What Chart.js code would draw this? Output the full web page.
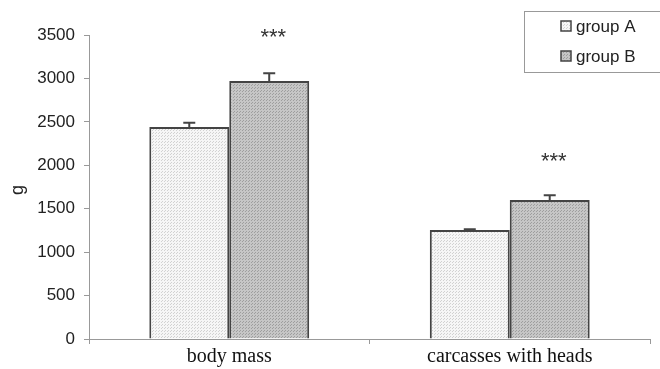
<!DOCTYPE html>
<html>
<head>
<meta charset="utf-8">
<script src="https://cdn.jsdelivr.net/npm/chart.js@4.4.0/dist/chart.umd.min.js"></script>
<style>
  html, body { margin: 0; padding: 0; background: #fff; }
</style>
</head>
<body>
<canvas id="chart" width="660" height="369"></canvas>
<script>
// data
const categories = ['body mass', 'carcasses with heads'];
const seriesNames = ['group A', 'group B'];
const groupA = [2440, 1255];
const groupB = [2970, 1600];
const errA = [50, 10];
const errB = [90, 55];
const marks = ['***', '***'];
const yMax = 3500;
const yStep = 500;

// dotted fills like the print version
function dotPattern(base, dot) {
    const c = document.createElement('canvas');
    c.width = 3; c.height = 3;
    const g = c.getContext('2d');
    g.fillStyle = base;
    g.fillRect(0, 0, 3, 3);
    g.fillStyle = dot;
    g.fillRect(0, 0, 1, 1);
    g.fillRect(2, 1, 1, 1);
    return g.createPattern(c, 'repeat');
}
const ctx0 = document.getElementById('chart').getContext('2d');
const fillA = dotPattern('#f6f6f6', '#d2d2d2');
const fillB = dotPattern('#c6c6c6', '#9e9e9e');

const errors = [errA, errB];

const extras = {
    id: 'extras',
    afterDatasetsDraw(chart) {
        const ctx = chart.ctx;
        const y = chart.scales.y;
        ctx.save();
        ctx.strokeStyle = '#444';
        ctx.lineWidth = 2;
        chart.data.datasets.forEach((ds, i) => {
            chart.getDatasetMeta(i).data.forEach((bar, j) => {
                const top = y.getPixelForValue(ds.data[j]);
                const end = y.getPixelForValue(ds.data[j] + errors[i][j]);
                ctx.beginPath();
                ctx.moveTo(bar.x, top);
                ctx.lineTo(bar.x, end);
                ctx.moveTo(bar.x - 6, end);
                ctx.lineTo(bar.x + 6, end);
                ctx.stroke();
            });
        });
        // significance marks over group B
        ctx.fillStyle = '#333';
        ctx.font = '22px "Liberation Sans", Arial';
        ctx.textAlign = 'center';
        ctx.textBaseline = 'middle';
        chart.getDatasetMeta(1).data.forEach((bar, j) => {
            const end = y.getPixelForValue(groupB[j] + errB[j]);
            ctx.fillText(marks[j], bar.x + 4, end - (j === 0 ? 35 : 33));
        });
        ctx.restore();
    },
    afterDraw(chart) {
        const ctx = chart.ctx;
        ctx.save();
        // legend box
        ctx.strokeStyle = '#999';
        ctx.lineWidth = 1;
        ctx.strokeRect(524.5, 11.5, 150, 61);
        ctx.font = '17px "Liberation Sans", Arial';
        ctx.textBaseline = 'middle';
        ctx.textAlign = 'left';
        chart.data.datasets.forEach((ds, i) => {
            const ly = 26 + i * 30;
            ctx.fillStyle = ds.backgroundColor;
            ctx.fillRect(561, ly - 5, 10, 10);
            ctx.strokeStyle = '#444';
            ctx.lineWidth = 1.5;
            ctx.strokeRect(561, ly - 5, 10, 10);
            ctx.fillStyle = '#222';
            ctx.fillText(ds.label, 576, ly + 1);
        });
        // y axis title
        ctx.translate(18, 190);
        ctx.rotate(-Math.PI / 2);
        ctx.textAlign = 'center';
        ctx.font = '18px "Liberation Sans", Arial';
        ctx.fillText('g', 0, 0);
        ctx.restore();
    }
};

new Chart(ctx0, {
    type: 'bar',
    data: {
        labels: categories,
        datasets: [{
            label: seriesNames[0],
            data: groupA,
            backgroundColor: fillA,
            borderColor: '#444',
            borderWidth: 2
        }, {
            label: seriesNames[1],
            data: groupB,
            backgroundColor: fillB,
            borderColor: '#444',
            borderWidth: 2
        }]
    },
    options: {
        responsive: false,
        animation: false,
        layout: { padding: { top: 35, right: 10 } },
        categoryPercentage: 0.57,
        barPercentage: 1,
        plugins: {
            legend: { display: false },
            tooltip: { enabled: false }
        },
        scales: {
            x: {
                grid: { offset: true, drawOnChartArea: false, tickLength: 5, color: '#999' },
                border: { color: '#999' },
                ticks: {
                    color: '#111',
                    padding: 1,
                    font: { family: '"Liberation Serif", "Times New Roman", serif', size: 20 }
                },
                afterFit(scale) { scale.height = 30; }
            },
            y: {
                min: 0,
                max: yMax,
                grid: { drawOnChartArea: false, tickLength: 5, color: '#999' },
                border: { color: '#999' },
                ticks: {
                    stepSize: yStep,
                    color: '#222',
                    padding: 9,
                    font: { family: '"Liberation Sans", Arial', size: 17 },
                    callback: v => String(v)
                },
                afterFit(scale) { scale.width = 89; }
            }
        }
    },
    plugins: [extras]
});
</script>
</body>
</html>
